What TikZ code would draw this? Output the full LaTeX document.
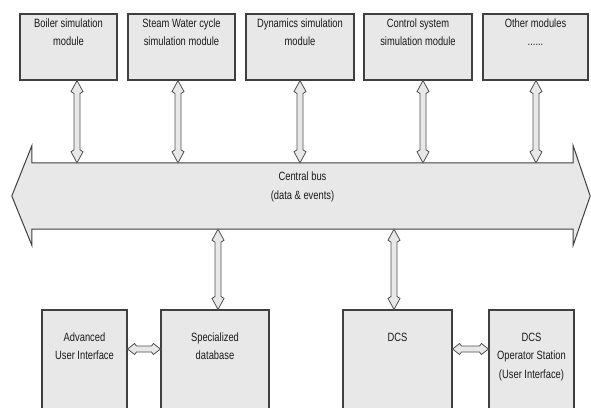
\documentclass[tikz,border=0pt]{standalone}
\usepackage{fontspec}
\setmainfont{Liberation Sans}[FakeStretch=0.78]
\usetikzlibrary{calc}
\definecolor{boxfill}{HTML}{E8E8E8}
\definecolor{boxline}{HTML}{404040}
\definecolor{arrline}{HTML}{505050}
\definecolor{txtcol}{HTML}{1A1A1A}
\tikzset{
  box/.style={draw=boxline, fill=boxfill, line width=1.1pt, inner sep=0pt},
  boxtxt/.style={font=\fontsize{12}{18.5}\selectfont, text=txtcol, align=center, inner sep=0pt},
  busline/.style={draw=boxline, fill=boxfill, line width=1pt, line join=miter},
  arrowfill/.style={draw=arrline, fill=boxfill, line width=0.8pt, line join=miter},
  vdbl/.style={arrowfill, to path={let \p1=(\tikztostart), \p2=(\tikztotarget) in
    (\x1,\y1) -- (\x1+6pt,\y1-11pt) -- (\x1+3pt,\y1-13pt) -- (\x1+3pt,\y2+13pt) -- (\x1+6pt,\y2+11pt)
    -- (\x1,\y2) -- (\x1-6pt,\y2+11pt) -- (\x1-3pt,\y2+13pt) -- (\x1-3pt,\y1-13pt) -- (\x1-6pt,\y1-11pt) -- cycle}},
  hdbl/.style={arrowfill, to path={let \p1=(\tikztostart), \p2=(\tikztotarget) in
    (\x1,\y1) -- (\x1+7pt,\y1+5.5pt) -- (\x1+9pt,\y1+3pt) -- (\x2-9pt,\y1+3pt) -- (\x2-7pt,\y1+5.5pt)
    -- (\x2,\y1) -- (\x2-7pt,\y1-5.5pt) -- (\x2-9pt,\y1-3pt) -- (\x1+9pt,\y1-3pt) -- (\x1+7pt,\y1-5.5pt) -- cycle}}
}
\begin{document}
\begin{tikzpicture}[x=1pt,y=-1pt]
\useasboundingbox (0,0) rectangle (591,407);
\clip (0,0) rectangle (591,407);

% top modules
\node[box, minimum width=97pt, minimum height=66pt,
  label={[boxtxt,anchor=north,yshift=-5pt]north:Boiler simulation\\module}] (b1) at (68.5,47) {};
\node[box, minimum width=107pt, minimum height=66pt,
  label={[boxtxt,anchor=north,yshift=-5pt]north:Steam Water cycle\\simulation module}] (b2) at (181.5,47) {};
\node[box, minimum width=108pt, minimum height=66pt,
  label={[boxtxt,anchor=north,yshift=-5pt]north:Dynamics simulation\\module}] (b3) at (300,47) {};
\node[box, minimum width=108pt, minimum height=66pt,
  label={[boxtxt,anchor=north,yshift=-5pt]north:Control system\\simulation module}] (b4) at (418,47) {};
\node[box, minimum width=105pt, minimum height=66pt,
  label={[boxtxt,anchor=north,yshift=-5pt]north:Other modules\\......}] (b5) at (535.5,47) {};

% central bus
\node[inner sep=0pt, minimum width=541pt, minimum height=66pt] (bus) at (302.5,196) {};
\coordinate (busL) at ([xshift=-20pt]bus.west);
\coordinate (busR) at ([xshift=17pt]bus.east);
\path[busline] (bus.north west) -- ([yshift=17pt]bus.north west) -- (busL)
  -- ([yshift=-16pt]bus.south west) -- (bus.south west) -- (bus.south east)
  -- ([yshift=-16pt]bus.south east) -- (busR) -- ([yshift=17pt]bus.north east)
  -- (bus.north east) -- cycle;
\node[boxtxt, anchor=north] (bustxt) at ([yshift=-9pt]bus.north) {Central bus\\(data \& events)};

% bottom blocks
\node[box, minimum width=85pt, minimum height=105pt,
  label={[boxtxt,anchor=north,yshift=-23pt]north:Advanced\\User Interface}] (aui) at (84.5,362.5) {};
\node[box, minimum width=108pt, minimum height=105pt,
  label={[boxtxt,anchor=north,yshift=-23pt]north:Specialized\\database}] (sdb) at (215,362.5) {};
\node[box, minimum width=109pt, minimum height=105pt,
  label={[boxtxt,anchor=north,yshift=-23pt]north:DCS}] (dcs) at (397.5,362.5) {};
\node[box, minimum width=85pt, minimum height=105pt,
  label={[boxtxt,anchor=north,yshift=-23pt]north:DCS\\Operator Station\\(User Interface)}] (ops) at (531.5,362.5) {};

% vertical connectors to the bus
\draw[vdbl] ([xshift=8.5pt]b1.south) to ([xshift=8.5pt]b1.south |- bus.north);
\draw[vdbl] ([xshift=-3.5pt]b2.south) to ([xshift=-3.5pt]b2.south |- bus.north);
\draw[vdbl] (b3.south) to (b3.south |- bus.north);
\draw[vdbl] ([xshift=5pt]b4.south) to ([xshift=5pt]b4.south |- bus.north);
\draw[vdbl] ([xshift=0.5pt]b5.south) to ([xshift=0.5pt]b5.south |- bus.north);
\draw[vdbl] ([xshift=3pt]sdb.north |- bus.south) to ([xshift=3pt]sdb.north);
\draw[vdbl] ([xshift=-3.5pt]dcs.north |- bus.south) to ([xshift=-3.5pt]dcs.north);

% horizontal connectors
\draw[hdbl] ([yshift=13.5pt]aui.east) to ([yshift=13.5pt]sdb.west);
\draw[hdbl] ([yshift=13.5pt]dcs.east) to ([yshift=13.5pt]ops.west);
\end{tikzpicture}
\end{document}
